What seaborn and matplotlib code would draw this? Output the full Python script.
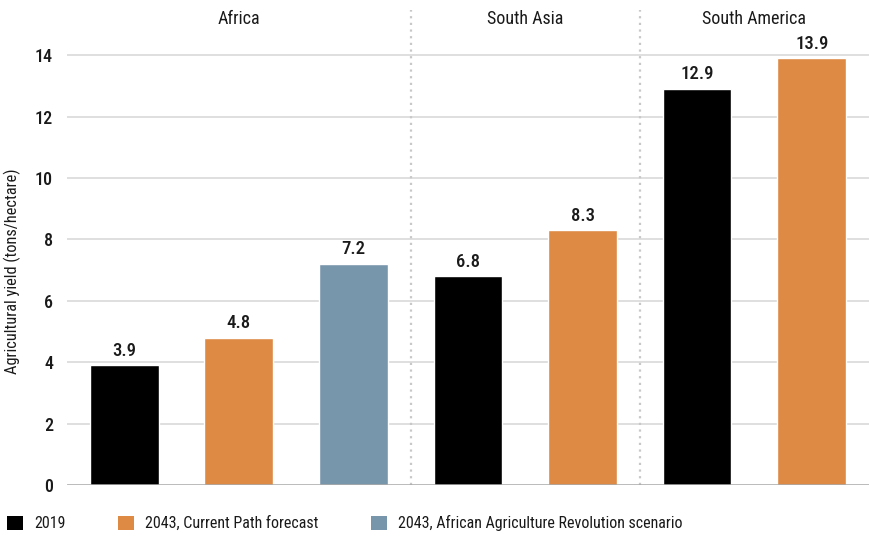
import matplotlib
matplotlib.use("Agg")
import matplotlib.pyplot as plt
from matplotlib import font_manager
from matplotlib.patches import Patch
import seaborn as sns
import pandas as pd

# --- data -------------------------------------------------------------
regions = ["Africa", "Africa", "Africa", "South Asia", "South Asia",
           "South America", "South America"]
series = ["2019", "2043, Current Path forecast",
          "2043, African Agriculture Revolution scenario",
          "2019", "2043, Current Path forecast",
          "2019", "2043, Current Path forecast"]
values = [3.9, 4.8, 7.2, 6.8, 8.3, 12.9, 13.9]
series_order = ["2019", "2043, Current Path forecast",
                "2043, African Agriculture Revolution scenario"]
region_order = ["Africa", "South Asia", "South America"]
y_ticks = [0, 2, 4, 6, 8, 10, 12, 14]
colors = ["#000000", "#DE8A45", "#7896AB"]

df = pd.DataFrame({"region": regions, "series": series, "value": values})
df["slot"] = [f"{r} | {s}" for r, s in zip(regions, series)]

# --- style ------------------------------------------------------------
sns.set_theme(style="white")
available = {f.name for f in font_manager.fontManager.ttflist}
preferred = ["Roboto Condensed", "Open Sans Condensed", "Sofia Sans Condensed",
             "Saira SemiCondensed", "Liberation Sans Narrow"]
chosen = [f for f in preferred if f in available][:1]
plt.rcParams["font.family"] = chosen + ["DejaVu Sans"]
text_color = "#1a1a1a"

fig = plt.figure(figsize=(8.69, 5.40), dpi=100)
ax = fig.add_axes([0.077, 0.1019, 0.923, 0.8796])

sns.barplot(data=df, x="slot", y="value", hue="series",
            hue_order=series_order, palette=colors, dodge=False,
            width=0.6, order=list(df["slot"]), ax=ax, saturation=1)

ax.set_xlim(-0.5, len(df) - 0.5)
ax.set_ylim(0, 15.47)
ax.set_yticks(y_ticks)
ax.set_yticklabels([str(t) for t in y_ticks], fontsize=13, color=text_color,
                   fontweight="medium")
ax.set_xticks([])
ax.set_xlabel("")
ax.set_ylabel("Agricultural yield (tons/hectare)", fontsize=11.8,
              color=text_color)
ax.yaxis.set_label_coords(-0.057, 0.45)
ax.tick_params(axis="y", length=0, pad=10)

for t in y_ticks[1:]:
    ax.axhline(t, color="#d9d9d9", lw=1.2, zorder=0)
ax.axhline(0, color="#a6a6a6", lw=1.8, zorder=3)
for s in ax.spines.values():
    s.set_visible(False)

# value labels above bars
for cont in ax.containers:
    ax.bar_label(cont, fmt="%.1f", padding=4, fontsize=13.5,
                 fontweight="medium", color=text_color)

# region separators and titles
counts = df.groupby("region", sort=False).size().reindex(region_order).tolist()
start = 0
for i, (name, n) in enumerate(zip(region_order, counts)):
    center = start + (n - 1) / 2
    ax.text(center, 15.17, name, ha="center", va="center", fontsize=13,
            color=text_color)
    if i > 0:
        ax.axvline(start - 0.5, color="#c8c8c8", lw=1.6, ls=(0, (1, 2)),
                   zorder=0)
    start += n

# legend along the bottom
leg = ax.get_legend()
if leg is not None:
    leg.remove()
handles = [Patch(facecolor=c, edgecolor="none") for c in colors]
fig.legend(handles, series_order, loc="center left",
           bbox_to_anchor=(0.006, 0.031), ncol=3, frameon=False,
           fontsize=11.5, borderpad=0.1,
           handlelength=1.0, handleheight=1.0, handletextpad=0.7,
           columnspacing=3.3, borderaxespad=0.0, labelcolor=text_color)

fig.savefig("out.png", dpi=100)
